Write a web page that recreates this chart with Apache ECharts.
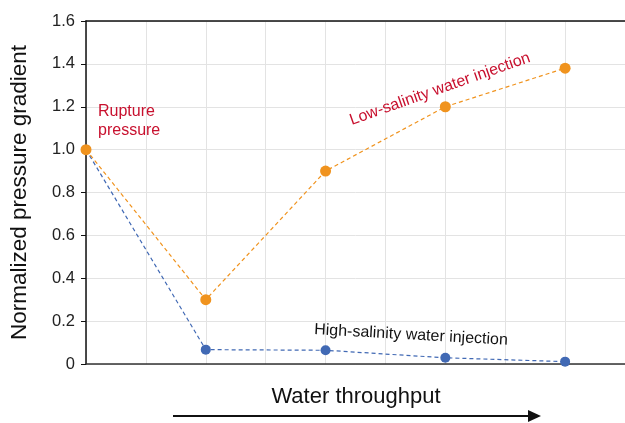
<!DOCTYPE html>
<html><head><meta charset="utf-8">
<script src="https://cdn.jsdelivr.net/npm/echarts@6/dist/echarts.min.js"></script>
<style>html,body{margin:0;padding:0;background:#fff}#c{width:625px;height:423px}</style>
</head><body><div id="c"></div>
<script>
const xSteps = [0, 2, 4, 6, 8];
const lowSalinity = [1.0, 0.3, 0.9, 1.2, 1.38];
const highSalinity = [1.0, 0.067, 0.064, 0.029, 0.011];
const yTicks = [0, 0.2, 0.4, 0.6, 0.8, 1.0, 1.2, 1.4, 1.6];

const FONT = 'Arial';
const chart = echarts.init(document.getElementById('c'));
const pair = (xs, ys) => xs.map((x, i) => [x, ys[i]]);
chart.setOption({
  animation: false,
  grid: {left: 86, top: 21, width: 540, bottom: 59},
  xAxis: [{
    type: 'value', min: 0, max: 9, interval: 1,
    axisLine: {show: true, lineStyle: {color: '#333', width: 1.5}},
    axisTick: {show: false}, axisLabel: {show: false},
    splitLine: {show: true, lineStyle: {color: '#e3e3e3', width: 1}}
  }, {
    type: 'value', position: 'top', min: 0, max: 9,
    axisLine: {show: true, onZero: false, lineStyle: {color: '#111', width: 1.5}},
    axisTick: {show: false}, axisLabel: {show: false}, splitLine: {show: false}
  }],
  yAxis: {
    type: 'value', min: 0, max: 1.6, interval: 0.2,
    axisLine: {show: true, lineStyle: {color: '#111', width: 1.5}},
    axisTick: {show: true, length: 5, lineStyle: {color: '#111'}},
    axisLabel: {fontFamily: FONT, fontSize: 16.5, color: '#222', margin: 11,
      formatter: v => v === 0 ? '0' : v.toFixed(1)},
    splitLine: {show: true, lineStyle: {color: '#e3e3e3', width: 1}},
    name: 'Normalized pressure gradient', nameLocation: 'middle', nameGap: 55,
    nameTextStyle: {fontFamily: FONT, fontSize: 22.5, color: '#111'}
  },
  series: [{
    type: 'line', data: pair(xSteps, highSalinity),
    symbol: 'circle', symbolSize: 10,
    itemStyle: {color: '#4169B4'},
    lineStyle: {color: '#4169B4', width: 1.2, type: [4, 3]}
  }, {
    type: 'line', data: pair(xSteps, lowSalinity),
    symbol: 'circle', symbolSize: 11,
    itemStyle: {color: '#F0931E'},
    lineStyle: {color: '#F0931E', width: 1.2, type: [4, 3]}
  }],
  graphic: [
    {type: 'text', z: 100, x: 98, y: 102, style: {text: 'Rupture\npressure', font: '16px Arial', fill: '#C8102E', lineHeight: 19}},
    {type: 'text', z: 100, x: 440, y: 89, rotation: 0.34, style: {text: 'Low-salinity water injection', font: '16px Arial', fill: '#C8102E', align: 'center', verticalAlign: 'middle'}},
    {type: 'text', z: 100, x: 411, y: 335, rotation: -0.055, style: {text: 'High-salinity water injection', font: '16px Arial', fill: '#111', align: 'center', verticalAlign: 'middle'}},
    {type: 'text', z: 100, x: 356, y: 397, style: {text: 'Water throughput', font: '22px Arial', fill: '#111', align: 'center', verticalAlign: 'middle'}},
    {type: 'line', z: 100, shape: {x1: 173, y1: 416, x2: 530, y2: 416}, style: {stroke: '#111', lineWidth: 2}},
    {type: 'polygon', z: 100, shape: {points: [[528, 410], [541, 416], [528, 422]]}, style: {fill: '#111'}}
  ]
});
</script></body></html>
